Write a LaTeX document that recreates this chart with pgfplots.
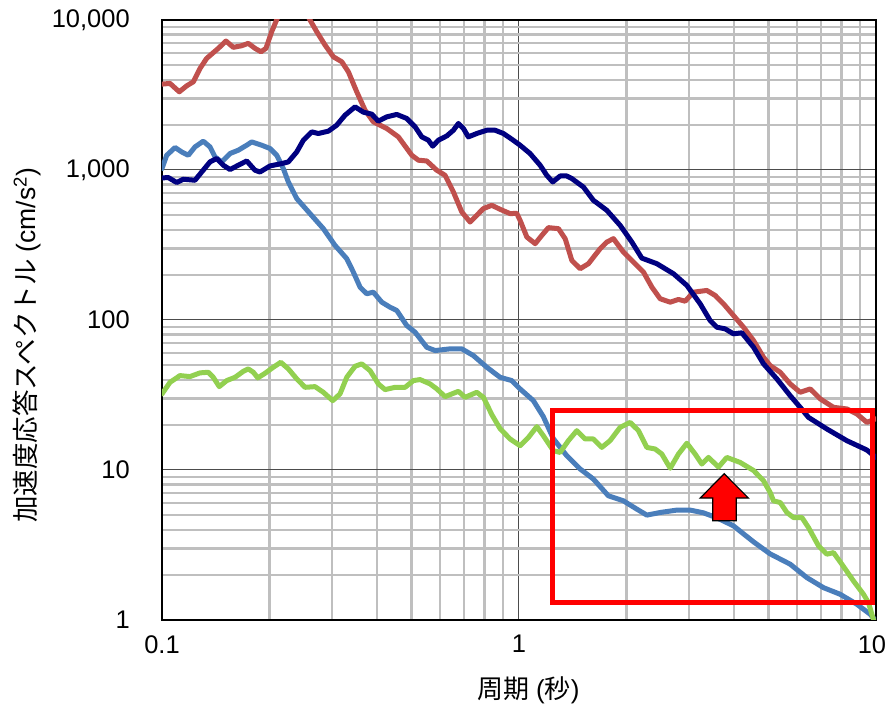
\documentclass[border=0pt]{standalone}
\usepackage{fontspec}
\setmainfont{Liberation Sans}
\newfontfamily\cjk{Noto Sans CJK JP}
\usepackage{pgfplots}
\pgfplotsset{compat=1.18}
\definecolor{cred}{RGB}{192,80,77}
\definecolor{cnavy}{RGB}{0,0,128}
\definecolor{cblue}{RGB}{74,126,187}
\definecolor{cgreen}{RGB}{146,208,80}
\begin{document}
\begin{tikzpicture}[x=1pt,y=1pt]
\useasboundingbox (-162,-91) rectangle (726,620);
\begin{axis}[
 at={(0,0)}, anchor=south west,
 scale only axis, width=714pt, height=600pt,
 xmode=log, ymode=log,
 xmin=0.1, xmax=10, ymin=1, ymax=10000,
 xtick={0.1,1,10}, xticklabels={0.1,1,\kern-8pt 10},
 ytick={1,10,100,1000,10000}, yticklabels={1,10,100,{1,000},{10,000}},
 minor xtick={0.2,0.3,0.4,0.5,0.6,0.7,0.8,0.9,2,3,4,5,6,7,8,9},
 minor ytick={2,3,4,5,6,7,8,9,20,30,40,50,60,70,80,90,200,300,400,500,600,700,800,900,2000,3000,4000,5000,6000,7000,8000,9000},
 grid=both,
 major grid style={draw=black!70, line width=1pt},
 minor grid style={draw=black!25, line width=2.2pt},
 axis line style={black, line width=2pt},
 major tick length=0pt, minor tick length=0pt,
 tick style={draw=none},
 ticklabel style={font=\fontsize{25.5}{25.5}\selectfont},
 yticklabel style={inner sep=0pt, xshift=-32pt},
 xticklabel style={inner sep=0pt, yshift=-15pt},
 xlabel={{\cjk 周期} ({\cjk 秒})},
 ylabel={{\cjk 加速度応答スペクトル} (cm/s\textsuperscript{2})},
 xlabel style={at={(axis description cs:0.513,-0.1167)}, anchor=center, font=\fontsize{26}{26}\selectfont},
 ylabel style={at={(axis description cs:-0.189,0.458)}, anchor=center, font=\fontsize{26.5}{26.5}\selectfont},
 every axis plot/.append style={line width=5pt, line join=round, line cap=round},
]
% red
\addplot[cred] coordinates {
(0.1,3737)(0.1053,3778)(0.1118,3320)(0.1173,3641)(0.1224,3873)(0.1278,4759)(0.1334,5549)(0.1438,6471)(0.1511,7240)(0.1584,6572)(0.1672,6736)(0.1745,6988)(0.1822,6471)(0.1894,6141)(0.1956,6471)(0.2029,8354)(0.2104,10265)(0.2313,14690)(0.2468,12594)(0.2598,10000)(0.2713,8354)(0.2862,6808)(0.3020,5687)(0.3189,5265)(0.3327,4515)(0.3512,3320)(0.3705,2506)(0.3909,2094)(0.4262,1891)(0.4594,1662)(0.5009,1254)(0.5227,1162)(0.5516,1149)(0.5886,996)(0.6209,922)(0.6551,713.7)(0.6915,524.8)(0.7296,450.0)(0.7950,552.9)(0.8393,581.6)(0.8851,547)(0.9443,512)(0.9858,514)(1.007,461.8)(1.052,357.3)(1.110,322.7)(1.159,366.8)(1.209,412.8)(1.290,406.5)(1.347,348.6)(1.406,249.6)(1.484,219.8)(1.565,237.3)(1.688,298.9)(1.762,330.7)(1.839,348.6)(1.961,283.7)(2.092,243.2)(2.232,208.6)(2.356,165.6)(2.485,138.6)(2.652,131.5)(2.797,137.1)(2.921,133.5)(3.081,153.3)(3.359,157.4)(3.545,145.7)(3.739,128.3)(3.988,107.2)(4.255,89.5)(4.539,72.97)(4.841,56.44)(5.054,49.69)(5.391,44.82)(5.750,37.50)(6.133,32.96)(6.541,34.72)(6.980,29.78)(7.603,26.17)(8.289,25.53)(8.842,23.63)(9.430,20.77)(10.0,21.99)
};
% steel blue
\addplot[cblue] coordinates {
(0.1,1023)(0.1031,1254)(0.1088,1412)(0.1135,1320)(0.1185,1254)(0.1237,1425)(0.1305,1556)(0.1363,1425)(0.1408,1222)(0.1470,1132)(0.1551,1288)(0.1636,1355)(0.1727,1463)(0.1784,1539)(0.1902,1463)(0.2007,1391)(0.2096,1254)(0.2187,1023)(0.2259,832)(0.2385,644.8)(0.2598,512)(0.2831,406.5)(0.3052,314.5)(0.3293,256.3)(0.3436,208.6)(0.3588,165.6)(0.3746,149.6)(0.3909,153.3)(0.4127,131.5)(0.4353,121.7)(0.4546,115.7)(0.4848,91.9)(0.5117,82.9)(0.5516,65.8)(0.5820,62.56)(0.6412,64.22)(0.6915,64.22)(0.7451,57.94)(0.8125,48.41)(0.8851,41.50)(0.9546,39.45)(1.007,34.72)(1.097,29.00)(1.170,22.68)(1.248,16.17)(1.361,12.45)(1.484,10.15)(1.616,8.70)(1.780,6.73)(1.961,6.23)(2.138,5.485)(2.281,5.004)(2.485,5.207)(2.768,5.404)(3.016,5.404)(3.286,5.183)(3.583,4.800)(3.988,4.244)(4.539,3.318)(5.054,2.758)(5.750,2.355)(6.403,1.917)(7.128,1.643)(7.937,1.484)(8.842,1.273)(9.634,1.092)(10.0,0.985)
};
% green
\addplot[cgreen] coordinates {
(0.1,32.16)(0.1053,38.42)(0.1123,42.60)(0.1198,41.95)(0.1278,44.41)(0.1348,44.82)(0.1392,41.50)(0.1447,35.96)(0.1518,39.45)(0.1602,41.50)(0.1690,45.51)(0.1745,47.22)(0.1803,44.82)(0.1855,41.12)(0.1944,44.13)(0.2050,48.41)(0.2151,52.27)(0.2259,47.22)(0.2385,40.50)(0.2516,35.58)(0.2684,35.96)(0.2831,32.96)(0.3008,29.00)(0.3153,32.16)(0.3293,41.50)(0.3474,49.15)(0.3627,51.0)(0.3826,46.00)(0.4037,37.50)(0.4216,34.35)(0.4496,35.58)(0.4796,35.58)(0.5060,39.45)(0.5284,40.07)(0.5636,37.50)(0.5886,34.72)(0.6209,30.84)(0.6766,33.46)(0.7063,30.51)(0.7617,32.96)(0.7950,30.51)(0.8393,23.38)(0.8851,18.86)(0.9443,16.10)(1.007,14.52)(1.063,16.50)(1.122,19.45)(1.170,16.93)(1.248,13.45)(1.304,13.10)(1.375,15.68)(1.452,18.29)(1.532,16.10)(1.616,16.10)(1.706,14.15)(1.799,15.68)(1.920,19.24)(2.048,20.77)(2.161,18.29)(2.281,14.15)(2.406,13.80)(2.512,12.78)(2.652,10.27)(2.797,12.78)(2.953,15.09)(3.114,12.78)(3.252,10.96)(3.394,12.13)(3.622,10.46)(3.821,12.13)(4.164,11.23)(4.539,9.93)(4.841,8.48)(5.054,7.08)(5.162,6.23)(5.391,6.07)(5.629,5.207)(5.874,4.82)(6.201,4.82)(6.470,4.134)(6.903,3.120)(7.286,2.746)(7.603,2.814)(8.023,2.355)(8.650,1.821)(9.226,1.484)(9.528,1.305)(9.84,1.0)(10.0,0.9)
};
% navy
\addplot[cnavy] coordinates {
(0.1,885)(0.1041,891)(0.1100,825)(0.1147,868)(0.1237,854)(0.1292,970)(0.1363,1132)(0.1423,1193)(0.1485,1076)(0.1551,1007)(0.1636,1076)(0.1727,1149)(0.1822,996)(0.1882,970)(0.2007,1064)(0.2165,1104)(0.2259,1132)(0.2385,1320)(0.2489,1580)(0.2627,1795)(0.2741,1751)(0.2924,1815)(0.3086,1990)(0.3257,2320)(0.3474,2636)(0.3664,2430)(0.3869,2357)(0.4037,2116)(0.4262,2261)(0.4546,2346)(0.4848,2206)(0.5117,1939)(0.5342,1662)(0.5573,1580)(0.5734,1441)(0.5946,1580)(0.6279,1688)(0.6551,1842)(0.6766,2043)(0.6987,1891)(0.7216,1662)(0.7617,1751)(0.8125,1842)(0.8570,1842)(0.9044,1751)(0.9546,1604)(1.007,1463)(1.074,1288)(1.146,1076)(1.196,922)(1.243,832)(1.304,912)(1.361,912)(1.406,877)(1.515,770)(1.616,628)(1.762,538.5)(1.920,427.8)(2.071,330.7)(2.208,258.6)(2.433,237.3)(2.708,203.5)(2.953,170.0)(3.217,128.3)(3.431,99.2)(3.583,89.5)(3.779,87.3)(3.988,80.9)(4.211,82.1)(4.539,65.8)(4.841,51.0)(5.276,40.5)(5.750,31.3)(6.133,26.17)(6.470,22.43)(7.286,18.77)(8.289,15.68)(9.430,13.59)(10.0,12.13)
};
\draw[red, line width=4.5pt] (axis cs:1.240,24.87) rectangle (axis cs:9.777,1.305);
\filldraw[fill=red, draw=black, line width=1.2pt, line join=miter]
 (axis cs:3.756,9.44) -- (axis cs:4.393,6.497) -- (axis cs:4.058,6.497) -- (axis cs:4.058,4.583)
 -- (axis cs:3.491,4.583) -- (axis cs:3.491,6.497) -- (axis cs:3.217,6.497) -- cycle;
\end{axis}
\end{tikzpicture}
\end{document}
